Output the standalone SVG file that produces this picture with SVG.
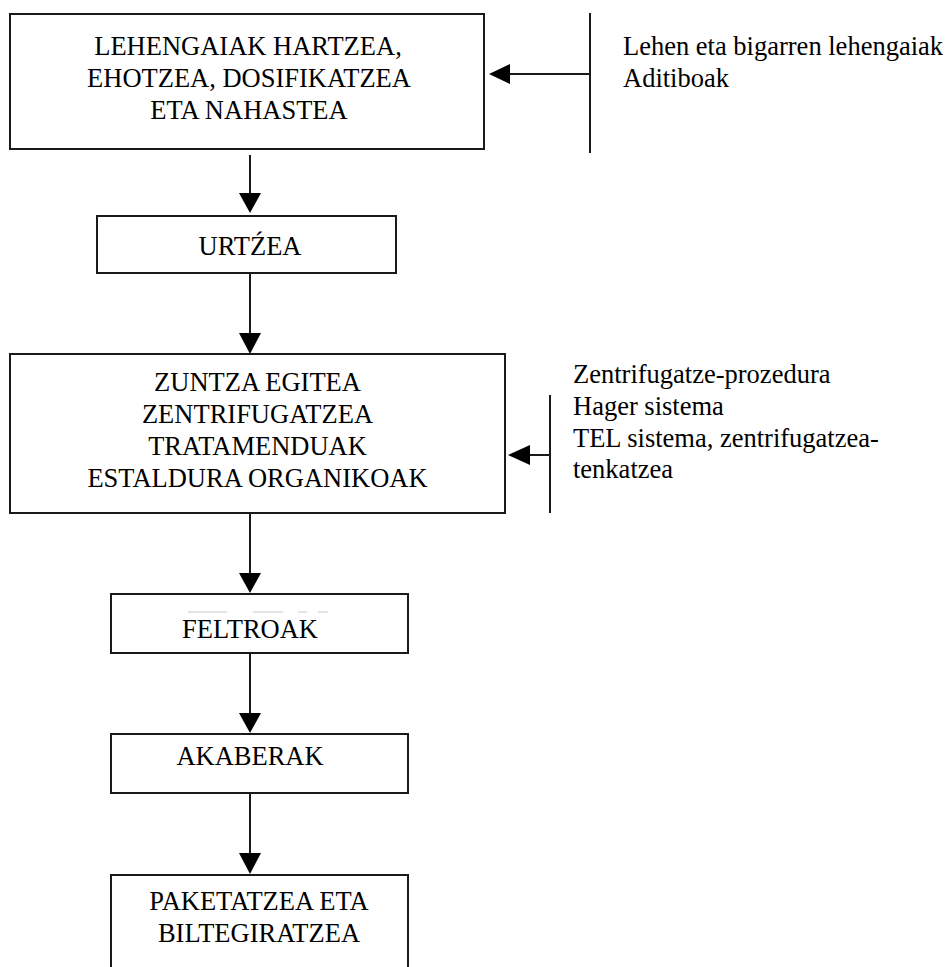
<svg xmlns="http://www.w3.org/2000/svg" width="949" height="967" viewBox="0 0 949 967">
<style>
.box{fill:#fff;stroke:#1a1a1a;stroke-width:2}
.ln{stroke:#1a1a1a;stroke-width:2;fill:none}
.ah{fill:#000}
text{font-family:"Liberation Serif","Times New Roman",serif;font-size:26.5px;fill:#000}
.c{text-anchor:middle}
</style>
<rect width="949" height="967" fill="#fff"/>
<g id="n1">
<rect class="box" x="10" y="14" width="474" height="135"/>
<text class="c" x="248" y="55">LEHENGAIAK HARTZEA,</text>
<text class="c" x="249" y="87">EHOTZEA, DOSIFIKATZEA</text>
<text class="c" x="249" y="119">ETA NAHASTEA</text>
</g>
<g id="n2">
<rect class="box" x="97" y="216" width="299" height="57"/>
<text class="c" x="250" y="255">URTŹEA</text>
</g>
<g id="n3">
<rect class="box" x="10" y="354" width="495" height="159"/>
<text class="c" x="257.5" y="391">ZUNTZA EGITEA</text>
<text class="c" x="257.5" y="423">ZENTRIFUGATZEA</text>
<text class="c" x="257.5" y="455">TRATAMENDUAK</text>
<text class="c" x="257.5" y="487">ESTALDURA ORGANIKOAK</text>
</g>
<g id="n4">
<rect class="box" x="111" y="594" width="297" height="59"/>
<g stroke="#c8c8c8" stroke-width="1"><line x1="188" y1="612" x2="227" y2="612"/><line x1="253" y1="612" x2="283" y2="612"/><line x1="298" y1="612" x2="307" y2="612"/><line x1="318" y1="612" x2="328" y2="612"/></g>
<text class="c" x="250" y="638">FELTROAK</text>
</g>
<g id="n5">
<rect class="box" x="111" y="734" width="297" height="59"/>
<text class="c" x="250" y="765">AKABERAK</text>
</g>
<g id="n6">
<path class="ln" d="M111,980 V875 H408 V980"/>
<text class="c" x="259" y="910">PAKETATZEA ETA</text>
<text class="c" x="259" y="942">BILTEGIRATZEA</text>
</g>
<g id="in1">
<text x="623" y="55">Lehen eta bigarren lehengaiak</text>
<text x="623" y="87">Aditiboak</text>
</g>
<g id="in2">
<text x="573" y="383">Zentrifugatze-prozedura</text>
<text x="573" y="415">Hager sistema</text>
<text x="573" y="447">TEL sistema, zentrifugatzea-</text>
<text x="573" y="478">tenkatzea</text>
</g>
<g id="connectors">
<line class="ln" x1="250" y1="155" x2="250" y2="196"/>
<polygon class="ah" points="239,193 261,193 250,213"/>
<line class="ln" x1="250" y1="273" x2="250" y2="336"/>
<polygon class="ah" points="239,333 261,333 250,354"/>
<line class="ln" x1="250" y1="513" x2="250" y2="576"/>
<polygon class="ah" points="239,573 261,573 250,593"/>
<line class="ln" x1="250" y1="653" x2="250" y2="716"/>
<polygon class="ah" points="239,713 261,713 250,733"/>
<line class="ln" x1="250" y1="793" x2="250" y2="856"/>
<polygon class="ah" points="239,853 261,853 250,874"/>
<line class="ln" x1="590" y1="13" x2="590" y2="153"/>
<line class="ln" x1="590" y1="74" x2="507" y2="74"/>
<polygon class="ah" points="510,64 510,84 489,74"/>
<line class="ln" x1="550" y1="395" x2="550" y2="513"/>
<line class="ln" x1="550" y1="455" x2="527" y2="455"/>
<polygon class="ah" points="530,445 530,465 508,455"/>
</g>
</svg>
